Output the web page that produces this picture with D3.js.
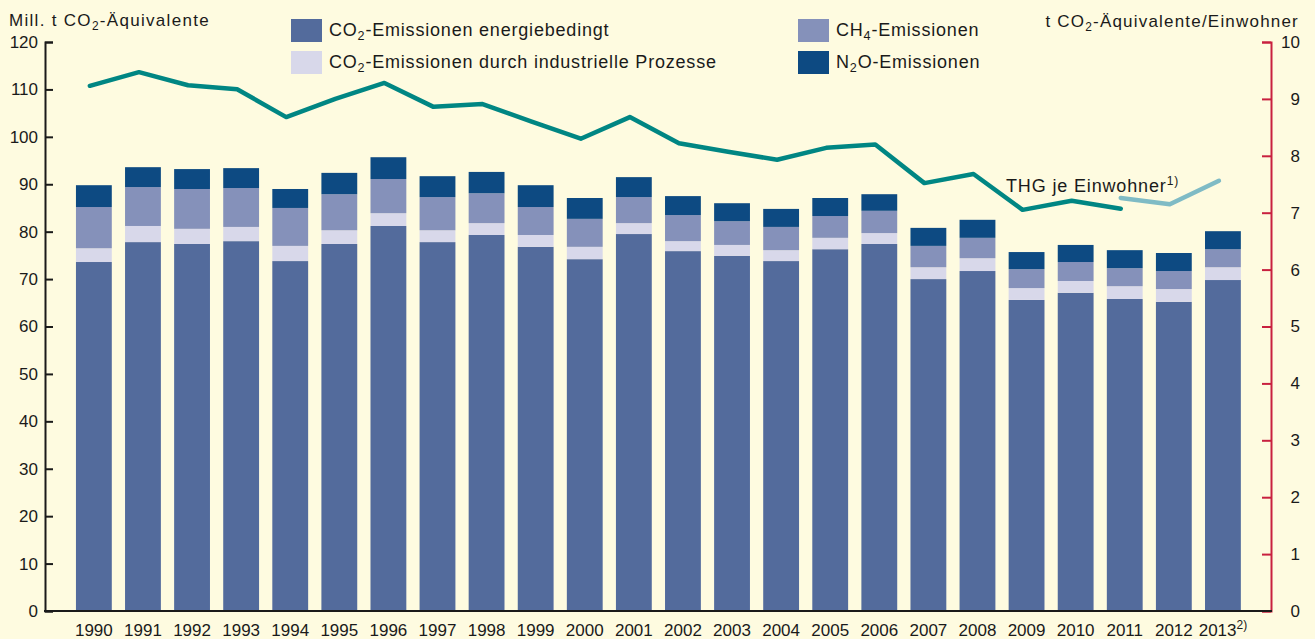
<!DOCTYPE html>
<html>
<head>
<meta charset="utf-8">
<script src="https://cdn.jsdelivr.net/npm/d3@7"></script>
<style>
  body { margin: 0; background: #fefbe0; }
  svg text { font-family: "Liberation Sans", Arial, sans-serif; fill: #1a1a1a; }
</style>
</head>
<body>
<div id="chart"></div>
<script>
// Treibhausgasemissionen 1990-2013

// years on the x axis
var years = ["1990","1991","1992","1993","1994","1995","1996","1997","1998","1999","2000","2001",
  "2002","2003","2004","2005","2006","2007","2008","2009","2010","2011","2012","2013"];

// Mill. t CO2-Aequivalente, one value per year
var co2Energie = [73.6, 77.8, 77.4, 78.0, 73.8, 77.4, 81.2, 77.8, 79.3, 76.8, 74.2, 79.5,
  75.9, 74.9, 73.8, 76.3, 77.4, 70.0, 71.7, 65.6, 67.1, 65.8, 65.2, 69.8];
var co2Prozesse = [2.9, 3.4, 3.2, 3.0, 3.2, 2.9, 2.7, 2.5, 2.5, 2.5, 2.6, 2.3,
  2.1, 2.3, 2.3, 2.4, 2.3, 2.5, 2.7, 2.5, 2.5, 2.7, 2.7, 2.7];
var ch4 = [8.7, 8.2, 8.4, 8.2, 8.0, 7.6, 7.2, 7.0, 6.3, 5.9, 5.9, 5.5,
  5.5, 5.0, 4.9, 4.6, 4.7, 4.5, 4.3, 4.0, 4.0, 3.8, 3.8, 3.8];
var n2o = [4.6, 4.2, 4.2, 4.2, 4.0, 4.5, 4.6, 4.4, 4.5, 4.6, 4.4, 4.2,
  4.0, 3.8, 3.8, 3.8, 3.5, 3.8, 3.8, 3.6, 3.6, 3.8, 3.8, 3.8];

// t CO2-Aequivalente je Einwohner
var thgYears = years.slice(0, 22);
var thg = [9.23, 9.47, 9.24, 9.17, 8.68, 9.0, 9.28, 8.86, 8.91, 8.6, 8.30, 8.68,
  8.22, 8.07, 7.93, 8.14, 8.20, 7.52, 7.68, 7.05, 7.21, 7.07];
// new calculation basis from 2011 on
var thgNeuYears = ["2011", "2012", "2013"];
var thgNeu = [7.26, 7.15, 7.56];

var leftTicks = [0, 10, 20, 30, 40, 50, 60, 70, 80, 90, 100, 110, 120];
var rightTicks = [0, 1, 2, 3, 4, 5, 6, 7, 8, 9, 10];

// series keys, labels and colours
var series = [
  { key: "energie", label: ["CO", "2", "-Emissionen energiebedingt"], color: "#536b9c" },
  { key: "prozesse", label: ["CO", "2", "-Emissionen durch industrielle Prozesse"], color: "#d8d8ea" },
  { key: "ch4", label: ["CH", "4", "-Emissionen"], color: "#8591ba" },
  { key: "n2o", label: ["N", "2", "O-Emissionen"], color: "#0d4a82" }
];

var width = 1315;
var height = 639;
var x0 = 45, x1 = 1271;     // left and right axis
var yBottom = 611, yTop = 42;

var data = years.map(function(y, i) {
  return { year: y, energie: co2Energie[i], prozesse: co2Prozesse[i], ch4: ch4[i], n2o: n2o[i] };
});

var svg = d3.select("#chart").append("svg")
  .attr("width", width)
  .attr("height", height);

svg.append("rect").attr("width", width).attr("height", height).attr("fill", "#fefbe0");

var x = d3.scaleBand()
  .domain(years)
  .range([62.7, 1254.1])
  .padding(0.27);

var y = d3.scaleLinear().domain([0, 120]).range([yBottom, yTop]);
var y2 = d3.scaleLinear().domain([0, 10]).range([yBottom, yTop]);

// stacked bars
var stack = d3.stack().keys(series.map(function(s) { return s.key; }));
var layers = stack(data);

svg.append("g").selectAll("g")
  .data(layers)
  .enter()
  .append("g")
  .attr("fill", function(d, i) { return series[i].color; })
  .selectAll("rect")
  .data(function(d) { return d; })
  .enter()
  .append("rect")
  .attr("x", function(d) { return x(d.data.year); })
  .attr("y", function(d) { return y(d[1]); })
  .attr("width", x.bandwidth())
  .attr("height", function(d) { return y(d[0]) - y(d[1]); });

// left axis
var leftAxis = svg.append("g")
  .attr("transform", "translate(" + x0 + ",0)")
  .call(d3.axisLeft(y).tickValues(leftTicks).tickSize(-8).tickPadding(7));
leftAxis.select(".domain").attr("stroke", "#1a1a1a").attr("stroke-width", 2);
leftAxis.selectAll(".tick line").attr("stroke", "#1a1a1a").attr("stroke-width", 2);
leftAxis.selectAll(".tick text")
  .style("font-size", "17px")
  .attr("fill", "#1a1a1a");

// right axis (red)
var rightAxis = svg.append("g")
  .attr("transform", "translate(" + x1 + ",0)")
  .call(d3.axisRight(y2).tickValues(rightTicks).tickSize(-9).tickPadding(0));
rightAxis.select(".domain").attr("stroke", "#c8203f").attr("stroke-width", 2);
rightAxis.selectAll(".tick line").attr("stroke", "#c8203f").attr("stroke-width", 2);
rightAxis.selectAll(".tick text")
  .style("font-size", "17px")
  .attr("text-anchor", "end")
  .attr("x", 29)
  .attr("fill", "#1a1a1a");

// baseline
svg.append("line")
  .attr("x1", x0 - 1).attr("x2", x1 + 1)
  .attr("y1", yBottom).attr("y2", yBottom)
  .attr("stroke", "#1a1a1a")
  .attr("stroke-width", 2);

// year labels
var yearLabels = svg.append("g").selectAll("text")
  .data(years)
  .enter()
  .append("text")
  .attr("x", function(d) { return x(d) + x.bandwidth() / 2; })
  .attr("y", 636)
  .attr("text-anchor", "middle")
  .style("font-family", "'Liberation Sans Narrow', 'Liberation Sans', sans-serif")
  .style("font-size", "17px")
  .text(function(d) { return d; });
yearLabels.filter(function(d) { return d === "2013"; })
  .append("tspan")
  .attr("dy", -7)
  .style("font-size", "12px")
  .text("2)");

// per capita lines
var line = d3.line()
  .x(function(d) { return x(d[0]) + x.bandwidth() / 2 - 4; })
  .y(function(d) { return y2(d[1]); });

svg.append("path")
  .datum(d3.zip(thgYears, thg))
  .attr("d", line)
  .attr("fill", "none")
  .attr("stroke", "#008683")
  .attr("stroke-width", 4.5)
  .attr("stroke-linejoin", "round")
  .attr("stroke-linecap", "round");

svg.append("path")
  .datum(d3.zip(thgNeuYears, thgNeu))
  .attr("d", line)
  .attr("fill", "none")
  .attr("stroke", "#7fbbc5")
  .attr("stroke-width", 4.5)
  .attr("stroke-linejoin", "round")
  .attr("stroke-linecap", "round");

var thgLabel = svg.append("text")
  .attr("x", 1006)
  .attr("y", 192)
  .style("font-size", "18px")
  .style("letter-spacing", "0.85px")
  .text("THG je Einwohner");
thgLabel.append("tspan").attr("dy", -7).style("font-size", "12px").text("1)");

// axis titles, with subscript
function subText(sel, parts, size) {
  sel.append("tspan").text(parts[0]);
  sel.append("tspan").attr("dy", 4).style("font-size", (size * 0.7) + "px").text(parts[1]);
  sel.append("tspan").attr("dy", -4).text(parts[2]);
}

subText(svg.append("text").attr("x", 9).attr("y", 26)
  .style("font-size", "17px").style("letter-spacing", "1.3px"),
  ["Mill. t CO", "2", "-Äquivalente"], 17);
subText(svg.append("text").attr("x", 1299).attr("y", 27).attr("text-anchor", "end")
  .style("font-size", "17px").style("letter-spacing", "1.2px"),
  ["t CO", "2", "-Äquivalente/Einwohner"], 17);

// legend
var legendPos = [[291, 19], [291, 51], [798, 19], [798, 51]];
var legendOrder = [0, 1, 2, 3];

var legend = svg.append("g").selectAll("g")
  .data(legendOrder)
  .enter()
  .append("g")
  .attr("transform", function(d, i) { return "translate(" + legendPos[i][0] + "," + legendPos[i][1] + ")"; });

legend.append("rect")
  .attr("width", 31)
  .attr("height", 23)
  .attr("fill", function(d) { return series[d].color; });

legend.each(function(d) {
  var t = d3.select(this).append("text")
    .attr("x", 38)
    .attr("y", 17)
    .style("font-size", "18px")
    .style("letter-spacing", "0.8px");
  subText(t, series[d].label, 18);
});
</script>
</body>
</html>
